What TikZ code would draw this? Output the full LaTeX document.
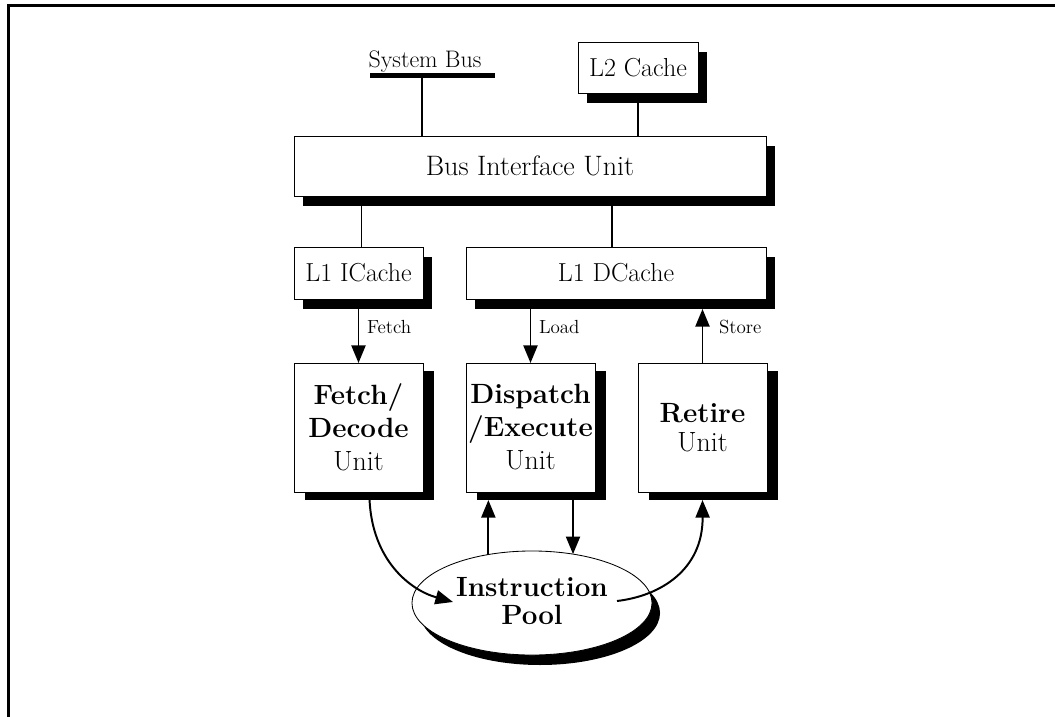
\documentclass[tikz,border=0pt]{standalone}
\usepackage{fontspec}
\usetikzlibrary{shapes.geometric,shadows,arrows.meta,calc}
\begin{document}
\begin{tikzpicture}[x=0.025cm,y=-0.025cm,
  every node/.style={inner sep=0pt, outer sep=0pt},
  cachebox/.style={draw, line width=0.6pt, fill=white, font=\fontsize{18.5}{22}\selectfont,
     drop shadow={shadow xshift=6.4pt, shadow yshift=-7pt, opacity=1, fill=black}},
  unitbox/.style={draw, line width=0.6pt, fill=white, align=center,
     minimum width=3.225cm, minimum height=3.225cm, font=\fontsize{19.8}{23.5}\selectfont,
     drop shadow={shadow xshift=7.8pt, shadow yshift=-5.7pt, opacity=1, fill=black}},
  conn/.style={line width=1.4pt},
  arr/.style={line width=1.4pt, -{Triangle[length=12.5pt,width=10pt]}},
  small/.style={font=\fontsize{13.5}{15}\selectfont, anchor=west},
]
\useasboundingbox (0,0) rectangle (1055,717);
% frame
\draw[line width=2.2pt] (8.7,730) -- (8.7,5.3) -- (1070,5.3);

% nodes
\node[cachebox, minimum width=3cm, minimum height=1.275cm] (L2) at (638,67.5) {L2 Cache};
\node[cachebox, minimum width=11.8cm, minimum height=1.5cm, font=\fontsize{20}{23}\selectfont] (BIU) at (530,166) {Bus Interface Unit};
\node[cachebox, minimum width=3.225cm, minimum height=1.3cm] (L1I) at (358.5,273) {L1 ICache};
\node[cachebox, minimum width=7.5cm, minimum height=1.3cm] (L1D) at (616,273) {L1 DCache};
\node[unitbox] (FD) at (358.5,427.5) {\textbf{Fetch/}\\\textbf{Decode}\\Unit};
\node[unitbox] (DE) at (530.5,427.5) {\textbf{Dispatch}\\\textbf{/Execute}\\Unit};
\node[unitbox, font=\fontsize{19.8}{21}\selectfont] (RU) at (702.5,427.5) {\textbf{Retire}\\Unit};
\node[ellipse, draw, line width=0.6pt, fill=white, minimum width=6cm, minimum height=2.6cm,
  drop shadow={shadow xshift=5.7pt, shadow yshift=-7.1pt, opacity=1, fill=black}] (pool) at (532,603) {};
\node[font=\fontsize{19.8}{20}\selectfont\bfseries, align=center] (pooltxt) at (532,601) {Instruction\\Pool};

% system bus
\coordinate (busL) at (370,75.5);
\coordinate (busR) at (495,75.5);
\coordinate (busM) at (422,75.5);
\node[font=\fontsize{17}{20}\selectfont, anchor=base] (sysbus) at (425,67) {System Bus};

% helper coordinates
\coordinate (L1Ds) at ($(L1D.south)+(0,10)$);
\coordinate (DEs) at ($(DE.south)+(0,8)$);
\coordinate (RUs) at ($(RU.south)+(0,8)$);
\coordinate (FDout) at ($(FD.south)+(11,7)$);
\coordinate (poolIn) at ($(pool.center)+(-79,-1)$);
\coordinate (poolOut) at ($(pool.center)+(85,-2)$);

% connectors
\draw[line width=3.5pt] (busL) -- (busR);
\draw[conn] (busM) -- (busM |- BIU.north);
\draw[conn] (L2.south) -- (L2.south |- BIU.north);
\draw[conn] ($(L1I.north)+(3,0)$) -- ($(L1I.north |- BIU.south)+(3,0)$);
\draw[conn] ($(L1D.north)+(-4,0)$) -- ($(L1D.north |- BIU.south)+(-4,0)$);
\draw[arr] (L1I.south) -- (FD.north);
\draw[arr] (DE.north |- L1D.south) -- (DE.north);
\draw[arr] (RU.north) -- (RU.north |- L1Ds);
\node[small] (lfetch) at (367,327) {Fetch};
\node[small] (lload) at (539,327) {Load};
\node[small] (lstore) at (719,327) {Store};

\draw[arr] (pool.132.3) -- (pool.132.3 |- DEs);
\draw[arr] (DEs -| pool.50) -- (pool.50);
\draw[arr] (FDout) .. controls (372,560) and (410,590) .. (poolIn);
\draw[arr] (poolOut) .. controls (660,596) and (703,570) .. (RUs);
\end{tikzpicture}
\end{document}
